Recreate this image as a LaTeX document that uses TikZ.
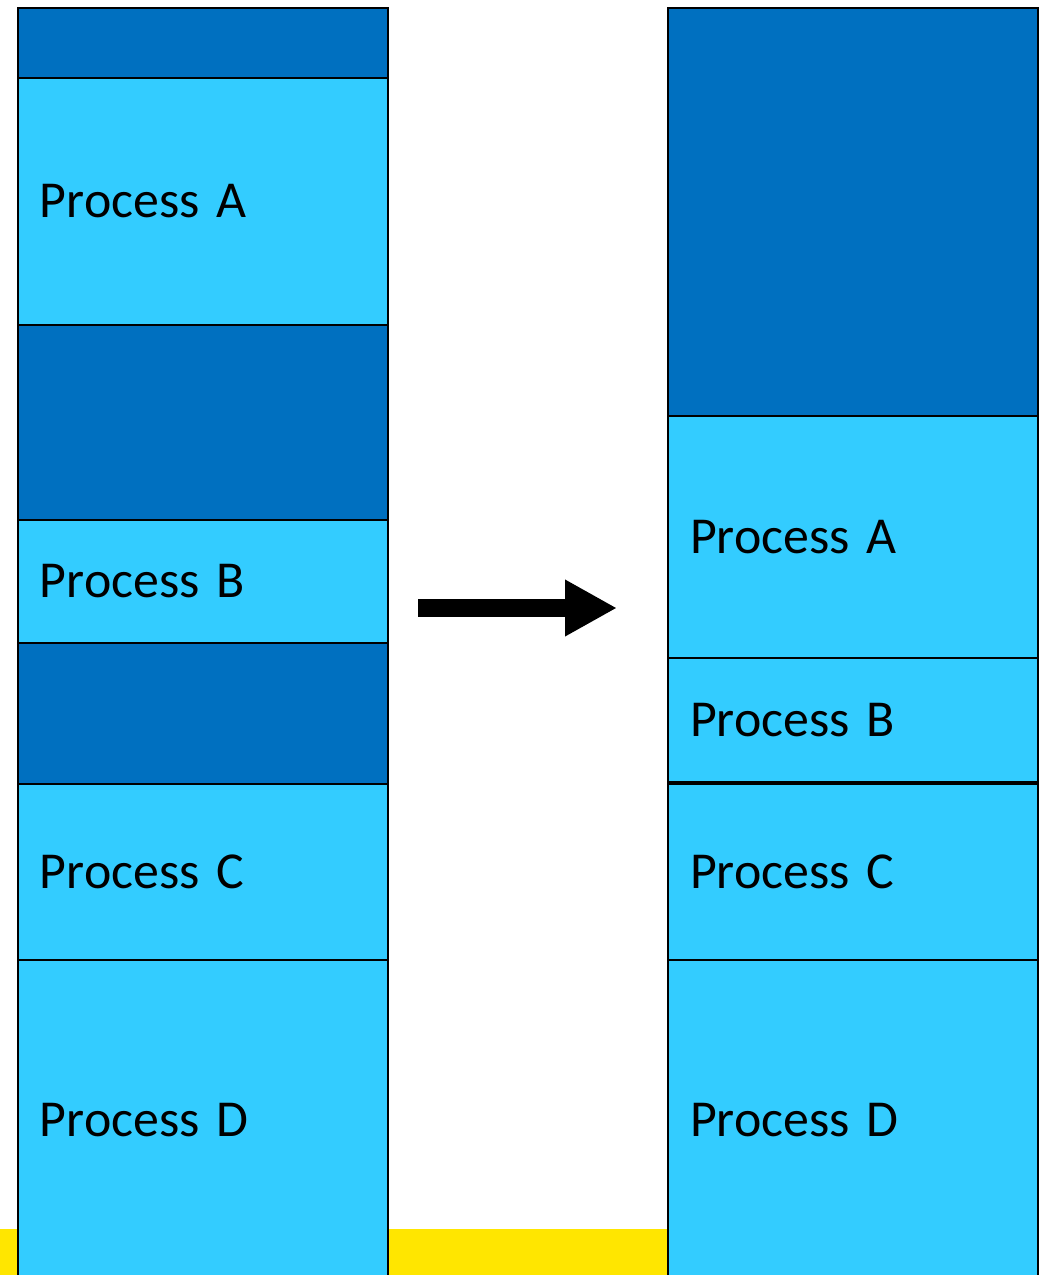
\documentclass[tikz,border=0pt]{standalone}
\usepackage{fontspec}
\setmainfont[WordSpace=0.75]{Carlito}
\usetikzlibrary{positioning,arrows.meta}
\definecolor{freeblue}{HTML}{0070C0}
\definecolor{procblue}{HTML}{33CCFF}
\definecolor{bandyellow}{HTML}{FFE600}
\begin{document}
\begin{tikzpicture}[
	x=0.02cm,y=-0.02cm,
	blk/.style={draw=black,line width=1.1pt,rectangle,anchor=north,outer sep=0pt,
		minimum width=7.4cm,inner xsep=0.44cm,text width=6.52cm,align=left,
		font=\fontsize{29.5}{34}\selectfont},
	hole/.style={blk,fill=freeblue,minimum height=#1},
	proc/.style={blk,fill=procblue,minimum height=#1}
]
\useasboundingbox (0,0) rectangle (1039,1275);
\fill[bandyellow] (0,1229) rectangle (668,1275);
% memory before compaction
\node[hole=1.4cm,anchor=north west] (f1) at (18,8) {};
\node[proc=4.94cm,below=0pt of f1] (pA) {Process A};
\node[hole=3.9cm,below=0pt of pA] (f2) {};
\node[proc=2.46cm,below=0pt of f2] (pB) {Process B};
\node[hole=2.82cm,below=0pt of pB] (f3) {};
\node[proc=3.52cm,below=0pt of f3] (pC) {Process C};
\node[proc=6.4cm,below=0pt of pC] (pD) {Process D};
% memory after compaction
\node[hole=8.16cm,anchor=north west] (f4) at (668,8) {};
\node[proc=4.84cm,below=0pt of f4] (qA) {Process A};
\node[proc=2.48cm,below=0pt of qA] (qB) {Process B};
\node[proc=3.52cm,below=0.04cm of qB] (qC) {Process C};
\node[proc=6.4cm,below=0pt of qC] (qD) {Process D};
% arrow
\coordinate (a0) at (418,608);
\coordinate (a1) at (617,608);
\draw[-{Triangle[length=1.04cm,width=1.06cm]},line width=0.36cm] (a0) -- (a1);
\end{tikzpicture}
\end{document}
